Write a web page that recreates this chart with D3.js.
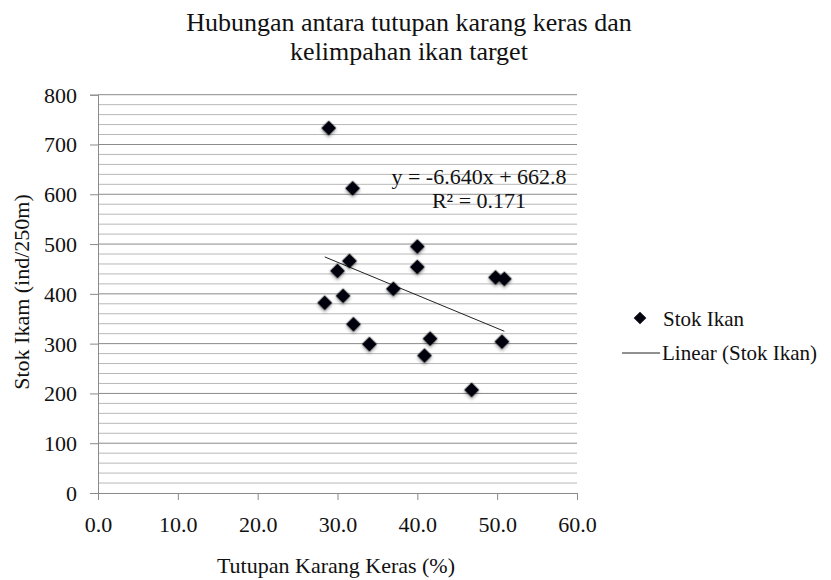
<!DOCTYPE html>
<html><head><meta charset="utf-8">
<script src="https://cdn.jsdelivr.net/npm/d3@7"></script>
<style>body{margin:0;background:#fff;}</style>
</head>
<body><svg id="c" width="831" height="580" font-family="Liberation Serif"></svg>
<script>
const coverX = [28.9, 31.9, 31.5, 30.0, 40.0, 40.0, 37.0, 30.7, 28.4, 32.0, 34.0, 41.6, 40.9, 50.6, 46.8, 49.8, 50.9];
const stockY = [733, 612, 466, 446, 495, 454, 410, 396, 382, 339, 299, 310, 276, 304, 207, 433, 430];
const xTicks = [0, 10, 20, 30, 40, 50, 60];
const yTicks = [0, 100, 200, 300, 400, 500, 600, 700, 800];
const trendSlope = -6.640, trendIntercept = 662.8;
const titleLines = ["Hubungan antara tutupan karang keras dan", "kelimpahan ikan target"];
const eqLines = ["y = -6.640x + 662.8", "R\u00b2 = 0.171"];
const legendLabels = ["Stok Ikan", "Linear (Stok Ikan)"];
const xTitle = "Tutupan Karang Keras (%)";
const yTitle = "Stok Ikam  (ind/250m)";

const FONT = '"Liberation Serif"';
const svg = d3.select("#c");
const L = 98, R = 577, T = 94.7, B = 493;
const x = d3.scaleLinear().domain([0, 60]).range([L, R]);
const y = d3.scaleLinear().domain([0, 800]).range([B, T]);

const defs = svg.append("defs");
const f = defs.append("filter").attr("id","sh").attr("x","-50%").attr("y","-50%").attr("width","200%").attr("height","200%");
f.append("feDropShadow").attr("dx",1.5).attr("dy",1.5).attr("stdDeviation",1.5).attr("flood-color","#000").attr("flood-opacity",0.35);

// minor gridlines
const minor = d3.range(20, 800, 20).filter(v => v % 100 !== 0);
svg.append("g").selectAll("line").data(minor).join("line")
  .attr("x1", L).attr("x2", R).attr("y1", d => y(d)).attr("y2", d => y(d))
  .attr("stroke", "#b8b8b8").attr("stroke-width", 1);
// major gridlines
svg.append("g").selectAll("line").data(yTicks.filter(d => d > 0)).join("line")
  .attr("x1", L).attr("x2", R).attr("y1", d => y(d)).attr("y2", d => y(d))
  .attr("stroke", "#8a8a8a").attr("stroke-width", 1);

// axes
const yAxis = d3.axisLeft(y).tickValues(yTicks).tickFormat(d3.format("d")).tickSize(8).tickPadding(13);
const gy = svg.append("g").attr("transform", `translate(${L},0)`).call(yAxis);
const xAxis = d3.axisBottom(x).tickValues(xTicks).tickFormat(d3.format(".1f")).tickSize(7).tickPadding(20);
const gx = svg.append("g").attr("transform", `translate(0,${B})`).call(xAxis);
[gy, gx].forEach(g => {
  g.attr("font-family", "Liberation Serif").attr("font-size", 22);
  g.select(".domain").attr("stroke", "#8a8a8a");
  g.selectAll(".tick line").attr("stroke", "#8a8a8a");
  g.selectAll(".tick text").style("font-size", "22px").style("fill", "#111")
    .style("font-family", FONT);
});
gy.selectAll(".tick text").attr("dy", "0.34em");
gx.selectAll(".tick text").attr("dy", "0.55em");

// trendline
const xmin = d3.min(coverX), xmax = d3.max(coverX);
svg.append("line")
  .attr("x1", x(xmin)).attr("y1", y(trendSlope * xmin + trendIntercept))
  .attr("x2", x(xmax)).attr("y2", y(trendSlope * xmax + trendIntercept))
  .attr("stroke", "#222").attr("stroke-width", 1);

// points
svg.append("g").selectAll("path").data(coverX.map((d, i) => [d, stockY[i]])).join("path")
  .attr("d", d3.symbol().type(d3.symbolSquare).size(112))
  .attr("transform", d => `translate(${x(d[0])},${y(d[1])}) rotate(45)`)
  .attr("fill", "#050510").attr("filter", "url(#sh)");

function txt(s, xx, yy, size, anchor) {
  return svg.append("text").attr("x", xx).attr("y", yy).attr("text-anchor", anchor || "start")
    .style("font-family", FONT).style("font-size", size + "px").style("fill", "#111").text(s);
}

// equation
eqLines.forEach((s, i) => txt(s, 479, 184 + i * 24, 22, "middle"));

// title
titleLines.forEach((s, i) => txt(s, 409, 31 + i * 29, 26, "middle"));

// axis titles
txt(xTitle, 336, 573, 22, "middle");
svg.append("text").attr("transform", "translate(29,292) rotate(-90)").attr("text-anchor", "middle")
  .style("font-family", FONT).style("font-size", "22px").style("fill", "#111").text(yTitle);

// legend
svg.append("path").attr("d", d3.symbol().type(d3.symbolSquare).size(80))
  .attr("transform", "translate(640,318) rotate(45)").attr("fill", "#050510");
txt(legendLabels[0], 663, 326, 21);
svg.append("line").attr("x1", 622).attr("x2", 660).attr("y1", 353).attr("y2", 353)
  .attr("stroke", "#222").attr("stroke-width", 1);
txt(legendLabels[1], 662, 360, 21);
</script></body></html>
